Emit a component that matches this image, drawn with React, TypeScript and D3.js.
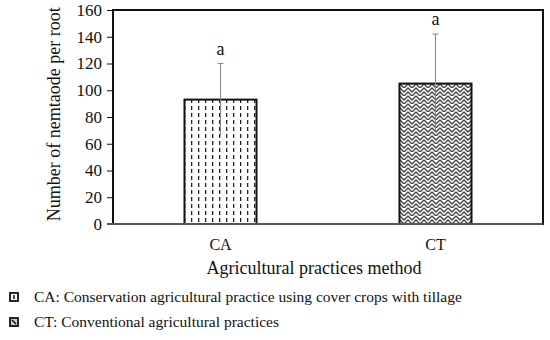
import React, { useEffect, useRef } from 'react'
import * as d3 from 'd3'

// data
const categories = ['CA', 'CT']
const means = [93, 105]
const errors = [27, 37]
const letters = ['a', 'a']
const yTicks = [0, 20, 40, 60, 80, 100, 120, 140, 160]
const legendLabels = [
    'CA: Conservation agricultural practice using cover crops with tillage',
    'CT: Conventional agricultural practices'
]
const patternIds = ['dashPat', 'weavePat']

const App = () => {
    const ref = useRef<SVGSVGElement>(null)

    const width = 550
    const height = 340
    const margin = { left: 113, right: 7, top: 10, bottom: 116 }
    const font = '"Liberation Serif", "DejaVu Serif", serif'

    useEffect(() => {
        const svg = d3.select(ref.current)
        svg.selectAll('*').remove()

        const x = d3.scaleBand()
                    .domain(categories)
                    .range([margin.left, width - margin.right])
                    .paddingInner(0.665)
                    .paddingOuter(0.3325)
        const y = d3.scaleLinear()
                    .domain([0, 160])
                    .range([height - margin.bottom, margin.top])

        const defs = svg.append('defs')

        // vertical dashes pattern (CA)
        const p1 = defs.append('pattern')
                       .attr('id', patternIds[0])
                       .attr('patternUnits', 'userSpaceOnUse')
                       .attr('width', 7)
                       .attr('height', 7)
        p1.append('rect').attr('width', 7).attr('height', 7).attr('fill', '#fff')
        p1.append('rect').attr('x', 2).attr('y', 1).attr('width', 1.3).attr('height', 4).attr('fill', '#222')

        // weave / zigzag pattern (CT)
        const p2 = defs.append('pattern')
                       .attr('id', patternIds[1])
                       .attr('patternUnits', 'userSpaceOnUse')
                       .attr('width', 8)
                       .attr('height', 8)
        p2.append('rect').attr('width', 8).attr('height', 8).attr('fill', '#fff')
        p2.append('path')
          .attr('d', 'M-1,-1 L4,4 L9,-1 M-1,3 L4,8 L9,3 M-1,7 L4,12 L9,7')
          .attr('stroke', '#444')
          .attr('stroke-width', 1.4)
          .attr('fill', 'none')

        // frame
        svg.append('rect')
           .attr('x', margin.left)
           .attr('y', margin.top)
           .attr('width', width - margin.right - margin.left)
           .attr('height', height - margin.bottom - margin.top)
           .attr('fill', 'none')
           .attr('stroke', '#111')
           .attr('stroke-width', 2)

        // bars
        svg.append('g').selectAll('rect')
           .data(categories)
           .join('rect')
           .attr('x', d => x(d)!)
           .attr('y', (d, i) => y(means[i]))
           .attr('width', x.bandwidth())
           .attr('height', (d, i) => y(0) - y(means[i]))
           .attr('fill', (d, i) => 'url(#' + patternIds[i] + ')')
           .attr('stroke', '#111')
           .attr('stroke-width', 2)

        // error bars
        const eb = svg.append('g').selectAll('g')
                      .data(categories)
                      .join('g')
        eb.append('line')
          .attr('x1', d => x(d)! + x.bandwidth() / 2)
          .attr('x2', d => x(d)! + x.bandwidth() / 2)
          .attr('y1', (d, i) => y(means[i] - errors[i]))
          .attr('y2', (d, i) => y(means[i] + errors[i]))
          .attr('stroke', '#888')
          .attr('stroke-width', 1)
        eb.append('line')
          .attr('x1', d => x(d)! + x.bandwidth() / 2 - 3)
          .attr('x2', d => x(d)! + x.bandwidth() / 2 + 3)
          .attr('y1', (d, i) => y(means[i] + errors[i]))
          .attr('y2', (d, i) => y(means[i] + errors[i]))
          .attr('stroke', '#888')
          .attr('stroke-width', 1)
        eb.append('text')
          .text((d, i) => letters[i])
          .attr('x', d => x(d)! + x.bandwidth() / 2)
          .attr('y', (d, i) => y(means[i] + errors[i]) - 9)
          .attr('text-anchor', 'middle')
          .style('font-family', font)
          .style('font-size', '18px')
          .attr('fill', '#111')

        // y axis
        const yAxis = svg.append('g')
                         .attr('transform', 'translate(' + margin.left + ',0)')
                         .call(d3.axisLeft(y).tickValues(yTicks).tickSize(6).tickSizeOuter(0))
        yAxis.select('.domain').remove()
        yAxis.selectAll('line').attr('stroke', '#111')
        yAxis.selectAll('text')
             .style('font-family', font)
             .style('font-size', '17px')
             .attr('fill', '#111')
             .attr('dx', -2)

        // baseline
        svg.append('line')
           .attr('x1', margin.left - 6)
           .attr('x2', width - margin.right)
           .attr('y1', y(0))
           .attr('y2', y(0))
           .attr('stroke', '#555')
           .attr('stroke-width', 2)

        // x labels
        svg.append('g').selectAll('text')
           .data(categories)
           .join('text')
           .text(d => d)
           .attr('x', d => x(d)! + x.bandwidth() / 2)
           .attr('y', 250)
           .attr('text-anchor', 'middle')
           .style('font-family', font)
           .style('font-size', '16px')
           .attr('fill', '#111')

        svg.append('text')
           .text('Agricultural practices method')
           .attr('x', 314)
           .attr('y', 274)
           .attr('text-anchor', 'middle')
           .style('font-family', font)
           .style('font-size', '18px')
           .attr('fill', '#111')

        svg.append('text')
           .text('Number of nemtaode per root')
           .attr('transform', 'translate(60,' + (y(82)) + ') rotate(-90)')
           .attr('text-anchor', 'middle')
           .style('font-family', font)
           .style('font-size', '18px')
           .attr('fill', '#111')

        // legend
        const lg = svg.append('g').selectAll('g')
                      .data(legendLabels)
                      .join('g')
                      .attr('transform', (d, i) => 'translate(10,' + (293 + i * 25) + ')')
        lg.append('rect')
          .attr('width', 8)
          .attr('height', 8)
          .attr('fill', (d, i) => i === 0 ? '#fff' : '#ccc')
          .attr('stroke', '#111')
          .attr('stroke-width', 1.8)
        lg.append('line')
          .attr('x1', (d, i) => i === 0 ? 4 : 2)
          .attr('x2', (d, i) => i === 0 ? 4 : 6)
          .attr('y1', 2)
          .attr('y2', 6)
          .attr('stroke', '#111')
          .attr('stroke-width', 1.5)
        lg.append('text')
          .text(d => d)
          .attr('x', 24)
          .attr('y', 9)
          .style('font-family', font)
          .style('font-size', '15.5px')
          .attr('fill', '#111')
    }, [])

    return (
        <svg ref={ref} width={width} height={height}
             style={{ position: 'absolute', left: 0, top: 0 }} />
    )
}

export default App
